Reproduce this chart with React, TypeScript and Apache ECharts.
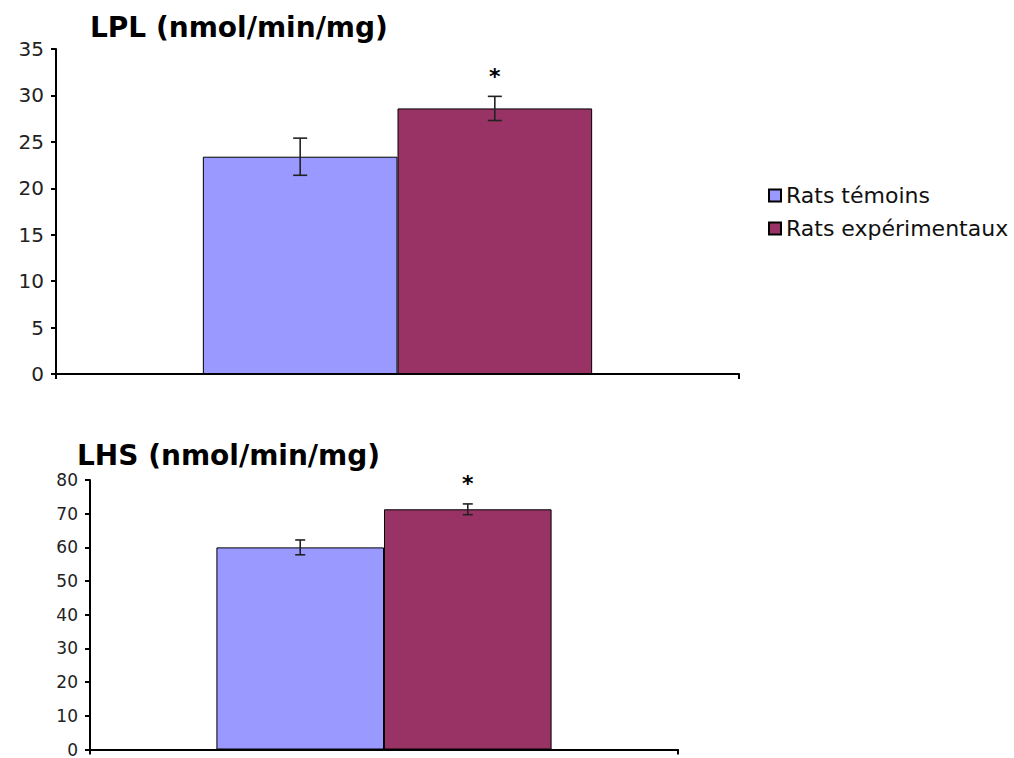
import React, { useEffect, useRef } from "react";
import * as echarts from "echarts";

const categories = [""];
const seriesNames = ["Rats témoins", "Rats expérimentaux"];
const seriesColors = ["#9999FF", "#993366"];
const lplMeans = [23.4, 28.6];
const lplErrors = [2.0, 1.3];
const lhsMeans = [60.0, 71.3];
const lhsErrors = [2.2, 1.6];
const significance = ["", "*"];
const lplTitle = "LPL (nmol/min/mg)";
const lhsTitle = "LHS (nmol/min/mg)";
const lplAxis = { min: 0, max: 35, interval: 5 };
const lhsAxis = { min: 0, max: 80, interval: 10 };

const GAP = 0.43;
const FONT = "DejaVu Sans";

function errorRender(capHalf: number) {
  return (params: any, api: any) => {
    const idx = api.value(3);
    const mean = api.value(1);
    const err = api.value(2);
    const c = api.coord([0, mean]);
    const catW = api.size([1, 0])[0];
    const bw = (catW * (1 - GAP)) / 2;
    const x = c[0] + (idx === 0 ? -bw / 2 : bw / 2);
    const yTop = api.coord([0, mean + err])[1];
    const yBot = api.coord([0, mean - err])[1];
    const style = { stroke: "#222", lineWidth: 1.6 };
    const children: any[] = [
      { type: "line", shape: { x1: x, y1: yTop, x2: x, y2: yBot }, style },
      { type: "line", shape: { x1: x - capHalf, y1: yTop, x2: x + capHalf, y2: yTop }, style },
      { type: "line", shape: { x1: x - capHalf, y1: yBot, x2: x + capHalf, y2: yBot }, style },
    ];
    const sig = significance[idx];
    if (sig) {
      children.push({
        type: "text",
        style: {
          text: sig,
          x: x,
          y: yTop - 20,
          align: "center",
          verticalAlign: "middle",
          fontSize: 22,
          fontWeight: "bold",
          fontFamily: FONT,
          fill: "#000",
        },
      });
    }
    return { type: "group", children };
  };
}

export default function App() {
  const ref = useRef<HTMLDivElement>(null);
  useEffect(() => {
    document.body.style.margin = "0";
    const chart = echarts.init(ref.current!, undefined, { renderer: "svg" });
    const axisLine = { show: true, lineStyle: { color: "#000", width: 2 } };
    const axisTick = { show: true, length: 5, lineStyle: { color: "#000", width: 2 } };
    const makeY = (ax: any, idx: number, fs: number) => ({
      type: "value",
      gridIndex: idx,
      min: ax.min,
      max: ax.max,
      interval: ax.interval,
      axisLine,
      axisTick,
      splitLine: { show: false },
      axisLabel: { color: "#222", fontSize: fs, fontFamily: FONT, margin: 12 },
    });
    const makeX = (idx: number) => ({
      type: "category",
      gridIndex: idx,
      data: categories,
      boundaryGap: true,
      axisLine,
      axisTick,
      axisLabel: { show: false },
    });
    const barSeries = (means: number[], gi: number) =>
      seriesNames.map((name, i) => ({
        type: "bar",
        name,
        xAxisIndex: gi,
        yAxisIndex: gi,
        data: [means[i]],
        barGap: "0%",
        barCategoryGap: GAP * 100 + "%",
        itemStyle: { color: seriesColors[i], borderColor: "#000", borderWidth: 1 },
      }));
    const errSeries = (means: number[], errs: number[], gi: number, cap: number) => ({
      type: "custom",
      xAxisIndex: gi,
      yAxisIndex: gi,
      encode: { x: 0, y: 1 },
      renderItem: errorRender(cap),
      data: means.map((m, i) => [0, m, errs[i], i]),
      z: 10,
    });
    chart.setOption({
      animation: false,
      backgroundColor: "#fff",
      title: [
        {
          text: lplTitle,
          left: 85,
          top: 8,
          textStyle: { fontSize: 28, fontWeight: "bold", fontFamily: FONT, color: "#000" },
        },
        {
          text: lhsTitle,
          left: 72,
          top: 436,
          textStyle: { fontSize: 28, fontWeight: "bold", fontFamily: FONT, color: "#000" },
        },
      ],
      legend: {
        data: seriesNames,
        orient: "vertical",
        left: 763,
        top: 179,
        icon: "rect",
        itemWidth: 12,
        itemHeight: 12,
        itemGap: 10,
        textStyle: { fontSize: 22, fontFamily: FONT, color: "#111", lineHeight: 23 },
      },
      grid: [
        { left: 56, right: 275, top: 49, bottom: 384 },
        { left: 90, right: 336, top: 480, bottom: 5 },
      ],
      xAxis: [makeX(0), makeX(1)],
      yAxis: [makeY(lplAxis, 0, 20), makeY(lhsAxis, 1, 17)],
      series: [
        ...barSeries(lplMeans, 0),
        errSeries(lplMeans, lplErrors, 0, 7),
        ...barSeries(lhsMeans, 1),
        errSeries(lhsMeans, lhsErrors, 1, 5),
      ],
    });
    return () => chart.dispose();
  }, []);
  return <div ref={ref} style={{ width: 1014, height: 758 }} />;
}
